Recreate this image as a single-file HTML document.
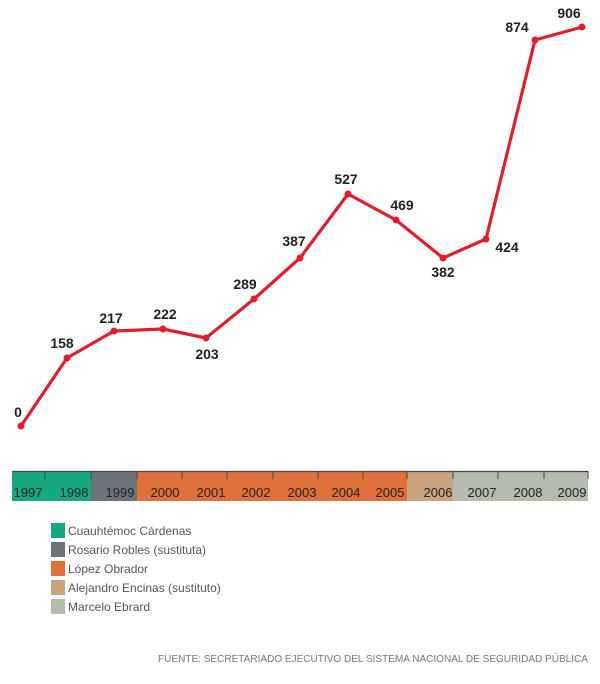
<!DOCTYPE html>
<html><head><meta charset="utf-8"><style>
html,body{margin:0;padding:0;background:#fff;width:600px;height:684px;overflow:hidden;font-family:"Liberation Sans",sans-serif}
</style></head><body>
<svg width="600" height="684" xmlns="http://www.w3.org/2000/svg">
<polyline fill="none" stroke="#e01f2d" stroke-width="3.2" stroke-linejoin="round" points="21,426 67,358 114,331 163,329 206,338 254,299 300,258 348,194 396,220 443,258 486,239 535,40 582,27"/>
<g fill="#e01f2d">
<circle cx="21" cy="426" r="3.5"/><circle cx="67" cy="358" r="3.5"/><circle cx="114" cy="331" r="3.5"/><circle cx="163" cy="329" r="3.5"/><circle cx="206" cy="338" r="3.5"/><circle cx="254" cy="299" r="3.5"/><circle cx="300" cy="258" r="3.5"/><circle cx="348" cy="194" r="3.5"/><circle cx="396" cy="220" r="3.5"/><circle cx="443" cy="258" r="3.5"/><circle cx="486" cy="239" r="3.5"/><circle cx="535" cy="40" r="3.5"/><circle cx="582" cy="27" r="3.5"/>
</g>
<g font-size="14" font-weight="bold" fill="#222" text-anchor="middle">
<text x="18" y="417">0</text><text x="62" y="348">158</text><text x="111" y="323">217</text><text x="165" y="319">222</text><text x="207" y="359">203</text><text x="245" y="289">289</text><text x="294" y="246">387</text><text x="346" y="184">527</text><text x="402" y="210">469</text><text x="443" y="277">382</text><text x="507" y="252">424</text><text x="517" y="32">874</text><text x="569" y="18">906</text>
</g>
<rect x="12" y="471" width="79" height="30" fill="#17a883"/>
<rect x="91" y="471" width="46" height="30" fill="#6d737a"/>
<rect x="137" y="471" width="270" height="30" fill="#e0703a"/>
<rect x="407" y="471" width="46" height="30" fill="#c9a47c"/>
<rect x="453" y="471" width="135" height="30" fill="#b4bcb0"/>
<line x1="12" y1="471.5" x2="588" y2="471.5" stroke="#444" stroke-width="1.2"/>
<g stroke="#444" stroke-width="1">
<line x1="45" y1="471" x2="45" y2="479"/><line x1="91" y1="471" x2="91" y2="479"/><line x1="137" y1="471" x2="137" y2="479"/><line x1="182" y1="471" x2="182" y2="479"/><line x1="227" y1="471" x2="227" y2="479"/><line x1="273" y1="471" x2="273" y2="479"/><line x1="318" y1="471" x2="318" y2="479"/><line x1="363" y1="471" x2="363" y2="479"/><line x1="407" y1="471" x2="407" y2="479"/><line x1="453" y1="471" x2="453" y2="479"/><line x1="498" y1="471" x2="498" y2="479"/><line x1="544" y1="471" x2="544" y2="479"/><line x1="588" y1="471" x2="588" y2="479"/>
</g>
<g font-size="13" fill="#222" text-anchor="middle">
<text x="28" y="497">1997</text><text x="74" y="497">1998</text><text x="120" y="497">1999</text><text x="165" y="497">2000</text><text x="211" y="497">2001</text><text x="256" y="497">2002</text><text x="302" y="497">2003</text><text x="346" y="497">2004</text><text x="390" y="497">2005</text><text x="438" y="497">2006</text><text x="482" y="497">2007</text><text x="528" y="497">2008</text><text x="572" y="497">2009</text>
</g>
<rect x="51" y="523" width="14" height="15" fill="#17a883"/>
<rect x="51" y="542" width="14" height="15" fill="#6d737a"/>
<rect x="51" y="561" width="14" height="15" fill="#e0703a"/>
<rect x="51" y="580" width="14" height="15" fill="#c9a47c"/>
<rect x="51" y="599" width="14" height="15" fill="#b4bcb0"/>
<g font-size="12" fill="#555">
<text x="68" y="535">Cuauhtémoc Cárdenas</text>
<text x="68" y="554">Rosario Robles (sustituta)</text>
<text x="68" y="573">López Obrador</text>
<text x="68" y="592">Alejandro Encinas (sustituto)</text>
<text x="68" y="611">Marcelo Ebrard</text>
</g>
<text x="588" y="662" font-size="10" fill="#777" text-anchor="end" textLength="430" lengthAdjust="spacingAndGlyphs">FUENTE: SECRETARIADO EJECUTIVO DEL SISTEMA NACIONAL DE SEGURIDAD PÚBLICA</text>
</svg>
</body></html>
